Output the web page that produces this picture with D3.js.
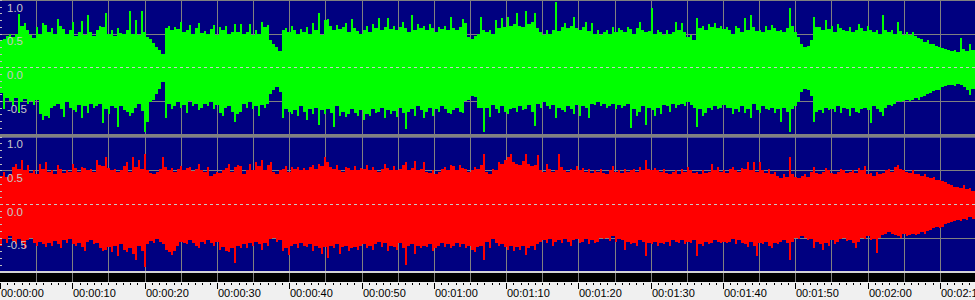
<!DOCTYPE html>
<html><head><meta charset="utf-8">
<script src="https://cdn.jsdelivr.net/npm/d3@7"></script>
<style>html,body{margin:0;padding:0;background:#f0f0f0;overflow:hidden}svg{display:block}</style>
</head><body><svg id="c" width="975" height="300"></svg>
<script>
// Left channel (green) peak values per column
const leftMax = [
0.40,0.42,0.47,0.49,0.45,0.50,0.79,0.62,0.66,0.55,
0.48,0.44,0.60,0.50,0.66,0.63,0.52,0.58,0.49,0.72,
0.62,0.57,0.50,0.55,0.68,0.47,0.53,0.69,0.48,0.78,
0.52,0.47,0.56,0.62,0.60,0.80,0.50,0.55,0.46,0.58,
0.51,0.49,0.55,0.83,0.50,0.70,0.48,0.83,0.52,0.45,
0.42,0.36,0.30,0.25,0.20,0.58,0.62,0.55,0.60,0.57,
0.68,0.52,0.56,0.63,0.50,0.58,0.66,0.51,0.54,0.49,
0.57,0.63,0.48,0.60,0.55,0.61,0.50,0.53,0.65,0.52,
0.65,0.50,0.52,0.64,0.48,0.55,0.50,0.68,0.60,0.63,
0.40,0.34,0.30,0.24,0.56,0.58,0.52,0.62,0.55,0.50,
0.57,0.53,0.60,0.50,0.66,0.56,0.80,0.48,0.70,0.72,
0.62,0.55,0.63,0.57,0.60,0.66,0.52,0.72,0.58,0.54,
0.50,0.55,0.62,0.52,0.64,0.58,0.73,0.55,0.60,0.73,
0.57,0.62,0.55,0.60,0.67,0.58,0.52,0.78,0.56,0.64,
0.59,0.62,0.55,0.64,0.58,0.53,0.60,0.57,0.62,0.56,
0.75,0.58,0.55,0.60,0.72,0.66,0.45,0.42,0.46,0.50,
0.75,0.55,0.52,0.56,0.50,0.70,0.58,0.73,0.60,0.75,
0.62,0.64,0.80,0.62,0.60,0.84,0.65,0.68,0.81,0.58,
0.52,0.48,0.55,0.50,0.56,0.97,0.54,0.60,0.66,0.58,
0.62,0.75,0.58,0.55,0.60,0.68,0.54,0.66,0.50,0.56,
0.48,0.52,0.55,0.50,0.60,0.53,0.58,0.55,0.52,0.60,
0.57,0.50,0.58,0.68,0.55,0.52,0.54,0.88,0.50,0.56,
0.52,0.48,0.55,0.50,0.53,0.68,0.56,0.66,0.52,0.45,
0.48,0.40,0.73,0.58,0.62,0.56,0.64,0.60,0.66,0.58,
0.62,0.57,0.60,0.55,0.50,0.62,0.58,0.52,0.73,0.56,
0.78,0.60,0.54,0.56,0.52,0.62,0.55,0.63,0.58,0.54,
0.56,0.52,0.58,0.88,0.62,0.52,0.45,0.34,0.30,0.32,
0.40,0.75,0.60,0.60,0.55,0.70,0.57,0.62,0.53,0.65,
0.58,0.56,0.54,0.60,0.52,0.56,0.65,0.58,0.54,0.62,
0.55,0.52,0.56,0.50,0.78,0.55,0.52,0.56,0.50,0.68,
0.54,0.48,0.52,0.48,0.52,0.46,0.44,0.42,0.38,0.40,
0.35,0.34,0.32,0.30,0.28,0.27,0.25,0.24,0.25,0.23,
0.43,0.27,0.24,0.35,0.26
];
const leftMin = [
-0.38,-0.62,-0.45,-0.50,-0.58,-0.46,-0.68,-0.52,-0.47,-0.55,
-0.50,-0.56,-0.48,-0.70,-0.78,-0.72,-0.75,-0.60,-0.58,-0.55,
-0.62,-0.74,-0.52,-0.60,-0.64,-0.66,-0.56,-0.75,-0.58,-0.68,
-0.54,-0.60,-0.58,-0.55,-0.83,-0.62,-0.70,-0.58,-0.60,-0.88,
-0.57,-0.63,-0.66,-0.72,-0.68,-0.60,-0.55,-0.65,-0.96,-0.82,
-0.52,-0.48,-0.40,-0.32,-0.22,-0.76,-0.55,-0.62,-0.58,-0.52,
-0.60,-0.56,-0.68,-0.50,-0.58,-0.54,-0.64,-0.60,-0.55,-0.58,
-0.52,-0.62,-0.56,-0.68,-0.72,-0.60,-0.58,-0.66,-0.82,-0.70,
-0.66,-0.55,-0.60,-0.52,-0.62,-0.58,-0.73,-0.56,-0.60,-0.54,
-0.40,-0.34,-0.30,-0.36,-0.76,-0.62,-0.66,-0.70,-0.64,-0.72,
-0.58,-0.66,-0.78,-0.62,-0.70,-0.60,-0.86,-0.64,-0.70,-0.62,
-0.68,-0.88,-0.58,-0.72,-0.66,-0.74,-0.70,-0.62,-0.68,-0.72,
-0.64,-0.78,-0.70,-0.73,-0.62,-0.68,-0.66,-0.60,-0.76,-0.64,
-0.70,-0.65,-0.74,-0.60,-0.68,-0.92,-0.66,-0.62,-0.73,-0.58,
-0.64,-0.76,-0.66,-0.60,-0.73,-0.62,-0.66,-0.58,-0.62,-0.68,
-0.70,-0.63,-0.60,-0.66,-0.68,-0.50,-0.48,-0.42,-0.44,-0.60,
-0.60,-0.96,-0.60,-0.74,-0.56,-0.62,-0.68,-0.58,-0.66,-0.70,
-0.62,-0.60,-0.66,-0.58,-0.64,-0.62,-0.56,-0.66,-0.87,-0.55,
-0.60,-0.52,-0.58,-0.62,-0.56,-0.76,-0.60,-0.64,-0.66,-0.58,
-0.62,-0.70,-0.56,-0.72,-0.58,-0.60,-0.76,-0.54,-0.56,-0.52,
-0.58,-0.55,-0.60,-0.58,-0.55,-0.62,-0.56,-0.60,-0.58,-0.54,
-0.90,-0.62,-0.72,-0.66,-0.58,-0.86,-0.60,-0.64,-0.72,-0.60,
-0.70,-0.56,-0.58,-0.66,-0.54,-0.60,-0.56,-0.55,-0.58,-0.52,
-0.56,-0.60,-0.89,-0.62,-0.72,-0.68,-0.60,-0.64,-0.58,-0.62,
-0.60,-0.56,-0.60,-0.60,-0.70,-0.62,-0.66,-0.58,-0.68,-0.62,
-0.76,-0.54,-0.64,-0.68,-0.58,-0.62,-0.64,-0.60,-0.68,-0.62,
-0.81,-0.60,-0.66,-0.96,-0.62,-0.58,-0.52,-0.36,-0.32,-0.34,
-0.42,-0.81,-0.66,-0.64,-0.68,-0.60,-0.64,-0.62,-0.66,-0.58,
-0.68,-0.60,-0.62,-0.72,-0.60,-0.66,-0.68,-0.62,-0.60,-0.64,
-0.83,-0.58,-0.62,-0.66,-0.72,-0.60,-0.56,-0.58,-0.54,-0.50,
-0.52,-0.50,-0.48,-0.50,-0.48,-0.46,-0.48,-0.44,-0.42,-0.40,
-0.38,-0.35,-0.34,-0.33,-0.30,-0.28,-0.27,-0.26,-0.28,-0.25,
-0.27,-0.30,-0.34,-0.41,-0.32
];
// Right channel (red) peak values per column
const rightMax = [
0.42,0.48,0.40,0.45,0.55,0.60,0.52,0.65,0.50,0.58,
0.46,0.50,0.44,0.60,0.52,0.63,0.48,0.50,0.45,0.58,
0.52,0.46,0.50,0.48,0.60,0.53,0.47,0.55,0.54,0.50,
0.52,0.48,0.65,0.58,0.56,0.70,0.54,0.50,0.52,0.47,
0.50,0.56,0.62,0.48,0.70,0.55,0.65,0.52,0.74,0.50,
0.46,0.44,0.48,0.52,0.70,0.55,0.50,0.54,0.48,0.52,
0.56,0.50,0.53,0.55,0.49,0.52,0.60,0.51,0.47,0.55,
0.42,0.45,0.48,0.46,0.50,0.53,0.60,0.48,0.55,0.58,
0.56,0.45,0.50,0.60,0.50,0.62,0.56,0.66,0.50,0.58,
0.62,0.48,0.45,0.50,0.52,0.56,0.48,0.55,0.52,0.55,
0.50,0.53,0.50,0.55,0.58,0.52,0.60,0.56,0.70,0.62,
0.55,0.52,0.58,0.50,0.48,0.55,0.53,0.50,0.56,0.50,
0.54,0.52,0.58,0.50,0.55,0.50,0.48,0.52,0.60,0.54,
0.50,0.56,0.50,0.52,0.58,0.62,0.50,0.54,0.64,0.50,
0.52,0.62,0.48,0.46,0.50,0.44,0.48,0.52,0.55,0.50,
0.58,0.56,0.50,0.58,0.54,0.52,0.48,0.50,0.55,0.52,
0.58,0.75,0.48,0.45,0.52,0.50,0.62,0.60,0.66,0.70,
0.74,0.62,0.60,0.58,0.64,0.74,0.60,0.56,0.58,0.73,
0.50,0.48,0.60,0.52,0.48,0.50,0.74,0.55,0.50,0.48,
0.52,0.50,0.56,0.50,0.54,0.48,0.52,0.46,0.50,0.48,
0.52,0.46,0.45,0.50,0.56,0.48,0.50,0.46,0.52,0.48,
0.50,0.52,0.48,0.55,0.50,0.66,0.52,0.50,0.54,0.50,
0.48,0.52,0.46,0.44,0.48,0.50,0.45,0.52,0.48,0.55,
0.50,0.46,0.48,0.44,0.50,0.46,0.48,0.60,0.50,0.55,
0.48,0.50,0.46,0.52,0.55,0.50,0.48,0.54,0.52,0.62,
0.50,0.63,0.48,0.62,0.50,0.46,0.52,0.44,0.48,0.42,
0.38,0.45,0.40,0.70,0.44,0.40,0.38,0.42,0.45,0.40,
0.48,0.55,0.46,0.44,0.48,0.54,0.50,0.46,0.44,0.48,
0.52,0.50,0.46,0.48,0.50,0.46,0.53,0.50,0.56,0.44,
0.46,0.42,0.48,0.44,0.46,0.50,0.52,0.48,0.55,0.58,
0.52,0.50,0.48,0.46,0.50,0.44,0.45,0.42,0.44,0.40,
0.38,0.40,0.36,0.36,0.34,0.33,0.30,0.28,0.26,0.25,
0.24,0.28,0.22,0.24,0.20
];
const rightMin = [
-0.62,-0.52,-0.58,-0.48,-0.55,-0.60,-0.52,-0.58,-0.66,-0.54,
-0.50,-0.58,-0.62,-0.56,-0.60,-0.64,-0.58,-0.62,-0.55,-0.60,
-0.66,-0.54,-0.58,-0.52,-0.60,-0.62,-0.58,-0.64,-0.70,-0.56,
-0.54,-0.60,-0.58,-0.66,-0.70,-0.68,-0.64,-0.72,-0.62,-0.78,
-0.60,-0.68,-0.72,-0.66,-0.74,-0.83,-0.62,-0.70,-0.93,-0.60,
-0.55,-0.58,-0.52,-0.56,-0.60,-0.68,-0.72,-0.76,-0.70,-0.62,
-0.56,-0.58,-0.60,-0.54,-0.58,-0.62,-0.66,-0.56,-0.60,-0.54,
-0.58,-0.62,-0.56,-0.68,-0.64,-0.70,-0.72,-0.66,-0.88,-0.62,
-0.66,-0.60,-0.66,-0.58,-0.62,-0.56,-0.60,-0.68,-0.58,-0.62,
-0.52,-0.50,-0.56,-0.54,-0.70,-0.66,-0.76,-0.62,-0.60,-0.66,
-0.58,-0.62,-0.64,-0.60,-0.70,-0.62,-0.66,-0.74,-0.64,-0.80,
-0.62,-0.66,-0.60,-0.74,-0.64,-0.62,-0.70,-0.66,-0.64,-0.68,
-0.62,-0.60,-0.66,-0.62,-0.68,-0.60,-0.56,-0.64,-0.58,-0.70,
-0.62,-0.64,-0.68,-0.58,-0.66,-0.90,-0.62,-0.60,-0.74,-0.62,
-0.66,-0.62,-0.64,-0.60,-0.70,-0.66,-0.62,-0.58,-0.64,-0.60,
-0.66,-0.62,-0.58,-0.64,-0.60,-0.66,-0.62,-0.68,-0.72,-0.64,
-0.62,-0.83,-0.56,-0.66,-0.52,-0.58,-0.62,-0.60,-0.64,-0.68,
-0.62,-0.70,-0.64,-0.68,-0.62,-0.76,-0.66,-0.62,-0.68,-0.60,
-0.56,-0.54,-0.58,-0.52,-0.62,-0.56,-0.54,-0.58,-0.52,-0.56,
-0.62,-0.54,-0.52,-0.58,-0.56,-0.52,-0.60,-0.54,-0.58,-0.56,
-0.50,-0.52,-0.50,-0.55,-0.48,-0.56,-0.52,-0.54,-0.68,-0.56,
-0.60,-0.58,-0.62,-0.54,-0.56,-0.78,-0.58,-0.60,-0.56,-0.62,
-0.58,-0.60,-0.56,-0.62,-0.54,-0.56,-0.58,-0.54,-0.60,-0.56,
-0.58,-0.54,-0.78,-0.60,-0.62,-0.56,-0.60,-0.58,-0.54,-0.56,
-0.58,-0.56,-0.58,-0.56,-0.52,-0.60,-0.54,-0.58,-0.60,-0.64,
-0.56,-0.62,-0.78,-0.58,-0.60,-0.56,-0.62,-0.66,-0.58,-0.60,
-0.56,-0.54,-0.58,-0.83,-0.56,-0.50,-0.52,-0.48,-0.50,-0.54,
-0.52,-0.66,-0.56,-0.60,-0.68,-0.58,-0.62,-0.54,-0.60,-0.56,
-0.52,-0.50,-0.55,-0.54,-0.58,-0.66,-0.56,-0.50,-0.52,-0.48,
-0.54,-0.52,-0.73,-0.50,-0.46,-0.44,-0.42,-0.44,-0.46,-0.48,
-0.50,-0.44,-0.48,-0.46,-0.44,-0.46,-0.44,-0.42,-0.44,-0.40,
-0.38,-0.36,-0.34,-0.36,-0.34,-0.30,-0.28,-0.27,-0.26,-0.24,
-0.25,-0.22,-0.24,-0.20,-0.22
];
const timeLabels = ["00:00:00","00:00:10","00:00:20","00:00:30","00:00:40","00:00:50","00:01:00","00:01:10","00:01:20","00:01:30","00:01:40","00:01:50","00:02:00","00:02:10"];
const labelSeconds = [0,10,20,30,40,50,60,70,80,90,100,110,120,130];
const ampTicks = [1.0,0.5,0.0,-0.5];
const ampLabels = ["1.0","0.5","0.0","-0.5"];
const binSeconds = 0.415;
const totalSeconds = 134.85;

const W = 975;
const svg = d3.select("#c");
const x = d3.scaleLinear().domain([0, totalSeconds]).range([0, W]);

const panels = [
  {max: leftMax, min: leftMin, color: "#00ff00", top: 0, bottom: 134,
   y: d3.scaleLinear().domain([-1, 1]).range([134.6, 0])},
  {max: rightMax, min: rightMin, color: "#ff0000", top: 137.3, bottom: 271,
   y: d3.scaleLinear().domain([-1, 1]).range([271.3, 136.7])}
];

// backgrounds
svg.append("rect").attr("x",0).attr("y",0).attr("width",W).attr("height",300).attr("fill","#f0f0f0");
panels.forEach(p => {
  svg.append("rect").attr("x",0).attr("y",p.top).attr("width",W).attr("height",p.bottom-p.top).attr("fill","#000080");
});
svg.append("rect").attr("x",0).attr("y",0).attr("width",W).attr("height",1).attr("fill","#808080");
svg.append("rect").attr("x",0).attr("y",273).attr("width",W).attr("height",9).attr("fill","#000000");

// vertical gridlines every 5 s
const gridSecs = d3.range(5, totalSeconds, 5);
svg.append("g").selectAll("line").data(gridSecs).join("line")
  .attr("x1", d => Math.round(x(d)) + 0.5).attr("x2", d => Math.round(x(d)) + 0.5)
  .attr("y1", 1).attr("y2", 282)
  .attr("stroke", "#808080").attr("stroke-width", 1);
svg.append("rect").attr("x",0).attr("y",134).attr("width",W).attr("height",3.3).attr("fill","#808080");
svg.append("rect").attr("x",0).attr("y",271).attr("width",W).attr("height",2).attr("fill","#d4d4d4");

const defs = svg.append("defs");
panels.forEach((p, k) => {
  const n = p.max.length;
  // horizontal gridlines +-0.5
  svg.append("g").selectAll("line").data([0.5, -0.5]).join("line")
    .attr("x1", 0).attr("x2", W)
    .attr("y1", d => Math.round(p.y(d)) + 0.5).attr("y2", d => Math.round(p.y(d)) + 0.5)
    .attr("stroke", "#808080");
  defs.append("clipPath").attr("id", "clip" + k).append("rect")
    .attr("x", 0).attr("y", p.top + (k === 0 ? 1 : 0)).attr("width", W).attr("height", p.bottom - p.top - (k === 0 ? 1 : 0));
  const g = svg.append("g").attr("clip-path", `url(#clip${k})`).attr("shape-rendering", "crispEdges");
  // each data column: a 2-px stroke at its own peak, plus a 1-px stroke at
  // the level it shares with the next column
  const strokes = [];
  for (let i = 0; i < n; i++) {
    const j = Math.min(n - 1, i + 1);
    strokes.push({i, off: 0, w: 2, hi: p.max[i], lo: p.min[i]});
    strokes.push({i, off: 2, w: 1, hi: Math.min(p.max[i], p.max[j]), lo: Math.max(p.min[i], p.min[j])});
  }
  g.selectAll("rect").data(strokes).join("rect")
    .attr("x", d => Math.round(x(d.i * binSeconds)) + d.off)
    .attr("width", d => d.w)
    .attr("y", d => p.y(d.hi))
    .attr("height", d => p.y(d.lo) - p.y(d.hi))
    .attr("fill", p.color);
  // zero dashed line
  svg.append("line").attr("x1", 0).attr("x2", W)
    .attr("y1", Math.round(p.y(0)) + 0.5).attr("y2", Math.round(p.y(0)) + 0.5)
    .attr("stroke", "#c8c8c8").attr("stroke-dasharray", "3,3");
  // left small ticks every 0.1
  svg.append("g").selectAll("line").data(d3.range(-9, 11).map(v => v / 10)).join("line")
    .attr("x1", 0).attr("x2", 2)
    .attr("y1", d => Math.round(p.y(d)) + 0.5).attr("y2", d => Math.round(p.y(d)) + 0.5)
    .attr("stroke", "#c0c0c0");
  // amplitude labels
  svg.append("g").selectAll("text").data(ampTicks).join("text")
    .attr("x", 7).attr("y", d => p.y(d) + 11.6)
    .attr("font-family", "'Liberation Sans', Arial, sans-serif").attr("font-size", 11.5)
    .attr("fill", "#c8c8c8")
    .text((d, i) => ampLabels[i]);
});

// time axis
const axisG = svg.append("g").attr("shape-rendering", "crispEdges");
const secs = d3.range(0, Math.floor(totalSeconds) + 1, 1);
axisG.selectAll("rect").data(secs).join("rect")
  .attr("x", d => Math.round(x(d)))
  .attr("y", 283)
  .attr("width", 1)
  .attr("height", d => d % 10 === 0 ? 6 : (d % 5 === 0 ? 2 : 1.5))
  .attr("fill", "#000");
svg.append("g").selectAll("text").data(labelSeconds).join("text")
  .attr("x", d => Math.round(x(d)) + 1).attr("y", 297)
  .attr("font-family", "'Liberation Sans', Arial, sans-serif").attr("font-size", 11)
  .attr("fill", "#000")
  .text((d, i) => timeLabels[i]);
</script>
</body></html>
